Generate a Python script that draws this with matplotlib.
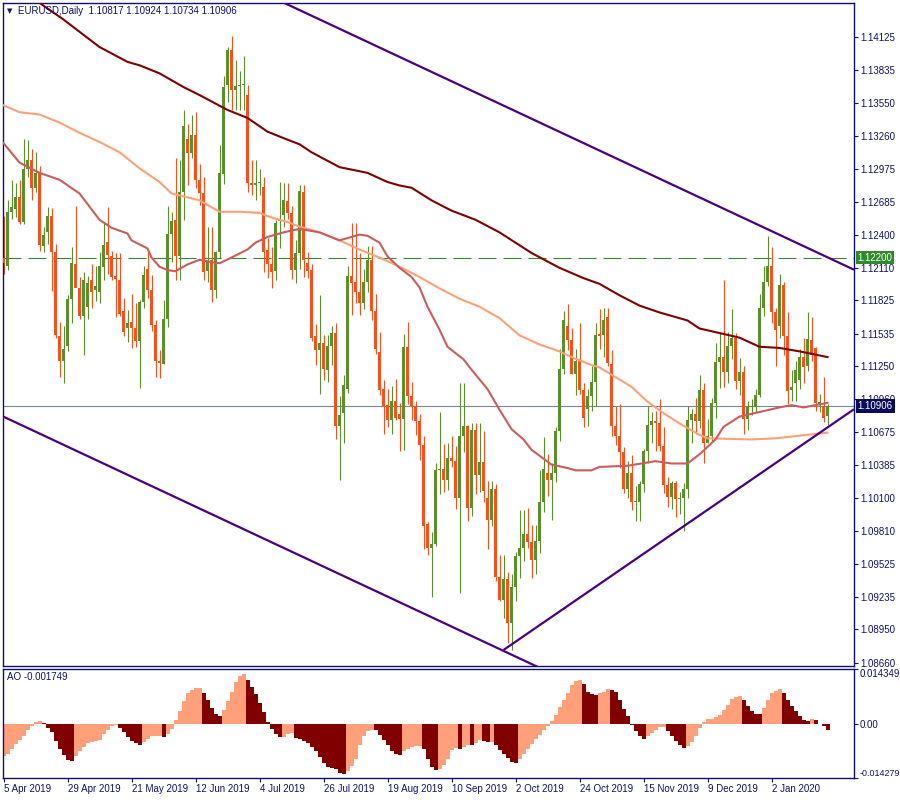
import numpy as np
import matplotlib
matplotlib.use('Agg')
import matplotlib.pyplot as plt

plt.rcParams['font.family'] = ['Liberation Sans', 'DejaVu Sans']
plt.rcParams['lines.scale_dashes'] = False

NAVY = '#10106e'
BULL = '#5b8e2d'
BEAR = '#f4511e'

# EURUSD daily bars, 5 Apr 2019 .. 22 Jan 2020 (one entry per bar)
opens = [
    1.1220, 1.1213, 1.1260, 1.1262, 1.1273, 1.1251, 1.1297, 1.1305, 1.1281, 1.1294,
    1.1230, 1.1242, 1.1256, 1.1225, 1.1151, 1.1130, 1.1143, 1.1184, 1.1214, 1.1193,
    1.1169, 1.1177, 1.1200, 1.1192, 1.1190, 1.1212, 1.1234, 1.1221, 1.1204, 1.1200,
    1.1173, 1.1158, 1.1164, 1.1158, 1.1147, 1.1181, 1.1210, 1.1192, 1.1161, 1.1130,
    1.1127, 1.1166, 1.1241, 1.1253, 1.1221, 1.1277, 1.1324, 1.1311, 1.1327, 1.1288,
    1.1276, 1.1208, 1.1218, 1.1192, 1.1225, 1.1293, 1.1371, 1.1401, 1.1366, 1.1370,
    1.1371, 1.1362, 1.1285, 1.1283, 1.1285, 1.1282, 1.1227, 1.1214, 1.1208, 1.1252,
    1.1257, 1.1269, 1.1259, 1.1209, 1.1224, 1.1277, 1.1215, 1.1209, 1.1151, 1.1139,
    1.1145, 1.1122, 1.1143, 1.1154, 1.1073, 1.1084, 1.1105, 1.1204, 1.1199, 1.1190,
    1.1180, 1.1199, 1.1218, 1.1173, 1.1137, 1.1105, 1.1091, 1.1078, 1.1095, 1.1083,
    1.1079, 1.1142, 1.1099, 1.1090, 1.1077, 1.1056, 1.0987, 1.0966, 1.0970, 1.1034,
    1.1035, 1.1026, 1.1045, 1.1042, 1.1010, 1.1064, 1.1073, 1.1001, 1.1069, 1.1030,
    1.1041, 1.1010, 1.0991, 1.1018, 1.0941, 1.0921, 1.0939, 1.0901, 1.0932, 1.0959,
    1.0966, 1.0978, 1.0971, 1.0956, 1.0972, 1.1006, 1.1032, 1.1026, 1.1032, 1.1068,
    1.1123, 1.1160, 1.1148, 1.1118, 1.1130, 1.1104, 1.1088, 1.1099, 1.1111, 1.1153,
    1.1152, 1.1168, 1.1127, 1.1073, 1.1064, 1.1050, 1.1018, 1.1032, 1.1006, 1.1006,
    1.1022, 1.1051, 1.1074, 1.1077, 1.1075, 1.1055, 1.1021, 1.1011, 1.1023, 1.1009,
    1.1010, 1.1018, 1.1078, 1.1083, 1.1077, 1.1104, 1.1058, 1.1064, 1.1093, 1.1129,
    1.1133, 1.1120, 1.1143, 1.1150, 1.1112, 1.1120, 1.1079, 1.1089, 1.1089, 1.1100,
    1.1176, 1.1199, 1.1213, 1.1172, 1.1160, 1.1196, 1.1151, 1.1104, 1.1110, 1.1113,
    1.1133, 1.1125, 1.1148, 1.1141, 1.1092, 1.1090, 1.10817,
]
highs = [
    1.1256, 1.1270, 1.1288, 1.1285, 1.1288, 1.1324, 1.1323, 1.1315, 1.1312, 1.1300,
    1.1247, 1.1264, 1.1263, 1.1232, 1.1164, 1.1160, 1.1187, 1.1229, 1.1265, 1.1203,
    1.1207, 1.1204, 1.1214, 1.1213, 1.1225, 1.1251, 1.1264, 1.1226, 1.1224, 1.1224,
    1.1185, 1.1174, 1.1188, 1.1180, 1.1183, 1.1213, 1.1225, 1.1205, 1.1165, 1.1139,
    1.1183, 1.1265, 1.1260, 1.1307, 1.1305, 1.1349, 1.1337, 1.1345, 1.1347, 1.1302,
    1.1290, 1.1247, 1.1247, 1.1226, 1.1318, 1.1379, 1.1404, 1.1414, 1.1393, 1.1383,
    1.1396, 1.1371, 1.1305, 1.1305, 1.1297, 1.1290, 1.1237, 1.1229, 1.1253, 1.1286,
    1.1285, 1.1285, 1.1265, 1.1235, 1.1283, 1.1283, 1.1225, 1.1214, 1.1162, 1.1187,
    1.1152, 1.1152, 1.1160, 1.1163, 1.1099, 1.1117, 1.1213, 1.1250, 1.1250, 1.1224,
    1.1210, 1.1230, 1.1230, 1.1188, 1.1155, 1.1113, 1.1105, 1.1108, 1.1114, 1.1093,
    1.1153, 1.1164, 1.1111, 1.1095, 1.1083, 1.1064, 1.0989, 1.0980, 1.1040, 1.1085,
    1.1057, 1.1058, 1.1064, 1.1055, 1.1110, 1.1110, 1.1074, 1.1075, 1.1075, 1.1075,
    1.1068, 1.1025, 1.1025, 1.1022, 1.0960, 1.0960, 1.0945, 1.0943, 1.0963, 1.0999,
    1.0999, 1.1001, 1.0986, 1.0986, 1.1034, 1.1063, 1.1048, 1.1040, 1.1072, 1.1140,
    1.1173, 1.1179, 1.1158, 1.1140, 1.1163, 1.1110, 1.1105, 1.1125, 1.1163, 1.1175,
    1.1176, 1.1176, 1.1139, 1.1090, 1.1092, 1.1054, 1.1042, 1.1047, 1.1020, 1.1025,
    1.1053, 1.1090, 1.1085, 1.1086, 1.1096, 1.1072, 1.1028, 1.1025, 1.1025, 1.1015,
    1.1023, 1.1090, 1.1088, 1.1097, 1.1117, 1.1110, 1.1079, 1.1097, 1.1145, 1.1155,
    1.1200, 1.1155, 1.1175, 1.1154, 1.1132, 1.1125, 1.1095, 1.1096, 1.1105, 1.1188,
    1.1213, 1.1239, 1.1229, 1.1176, 1.1206, 1.1199, 1.1172, 1.1122, 1.1130, 1.1140,
    1.1150, 1.1172, 1.1168, 1.1142, 1.1101, 1.1116, 1.10924,
]
lows = [
    1.1206, 1.1209, 1.1254, 1.1255, 1.1249, 1.1249, 1.1290, 1.1270, 1.1277, 1.1226,
    1.1225, 1.1232, 1.1191, 1.1150, 1.1116, 1.1110, 1.1138, 1.1163, 1.1195, 1.1166,
    1.1135, 1.1166, 1.1176, 1.1182, 1.1180, 1.1200, 1.1206, 1.1200, 1.1168, 1.1169,
    1.1151, 1.1146, 1.1141, 1.1142, 1.1106, 1.1176, 1.1185, 1.1156, 1.1116, 1.1115,
    1.1127, 1.1159, 1.1216, 1.1200, 1.1200, 1.1253, 1.1283, 1.1307, 1.1281, 1.1266,
    1.1200, 1.1199, 1.1181, 1.1185, 1.1220, 1.1284, 1.1356, 1.1349, 1.1349, 1.1349,
    1.1349, 1.1277, 1.1275, 1.1270, 1.1275, 1.1207, 1.1202, 1.1193, 1.1200, 1.1228,
    1.1247, 1.1254, 1.1201, 1.1198, 1.1210, 1.1203, 1.1202, 1.1147, 1.1126, 1.1101,
    1.1113, 1.1111, 1.1126, 1.1061, 1.1026, 1.1058, 1.1102, 1.1170, 1.1180, 1.1170,
    1.1175, 1.1190, 1.1165, 1.1136, 1.1100, 1.1066, 1.1072, 1.1066, 1.1078, 1.1051,
    1.1052, 1.1092, 1.1078, 1.1065, 1.1043, 1.0965, 1.0960, 1.0923, 1.0968, 1.1013,
    1.1015, 1.1017, 1.1037, 1.1000, 1.0927, 1.1050, 1.0990, 1.0994, 1.1013, 1.1015,
    1.1006, 1.0965, 1.0985, 1.0937, 1.0920, 1.0905, 1.0883, 1.0877, 1.0920, 1.0940,
    1.0955, 1.0966, 1.0940, 1.0943, 1.0962, 1.0998, 1.1012, 1.0991, 1.1024, 1.1060,
    1.1118, 1.1139, 1.1118, 1.1100, 1.1101, 1.1072, 1.1073, 1.1086, 1.1090, 1.1140,
    1.1133, 1.1125, 1.1064, 1.1056, 1.1036, 1.1014, 1.1010, 1.0999, 1.0990, 1.0990,
    1.1015, 1.1040, 1.1058, 1.1051, 1.1051, 1.1014, 1.1002, 1.1000, 1.0993, 1.0996,
    1.0981, 1.1010, 1.1058, 1.1066, 1.1071, 1.1040, 1.1058, 1.1060, 1.1080, 1.1106,
    1.1107, 1.1110, 1.1131, 1.1105, 1.1100, 1.1066, 1.1069, 1.1082, 1.1085, 1.1098,
    1.1169, 1.1195, 1.1163, 1.1125, 1.1150, 1.1135, 1.1092, 1.1095, 1.1095, 1.1105,
    1.1110, 1.1121, 1.1130, 1.1086, 1.1085, 1.1076, 1.10734,
]
closes = [
    1.1215, 1.1260, 1.1264, 1.1273, 1.1251, 1.1297, 1.1305, 1.1281, 1.1294, 1.1231,
    1.1240, 1.1256, 1.1225, 1.1152, 1.1130, 1.1140, 1.1184, 1.1215, 1.1193, 1.1169,
    1.1200, 1.1198, 1.1190, 1.1195, 1.1213, 1.1231, 1.1222, 1.1203, 1.1201, 1.1171,
    1.1155, 1.1163, 1.1158, 1.1147, 1.1181, 1.1205, 1.1192, 1.1161, 1.1130, 1.1128,
    1.1166, 1.1241, 1.1252, 1.1221, 1.1277, 1.1335, 1.1311, 1.1327, 1.1288, 1.1276,
    1.1207, 1.1218, 1.1192, 1.1225, 1.1294, 1.1369, 1.1401, 1.1366, 1.1370, 1.1371,
    1.1372, 1.1285, 1.1283, 1.1285, 1.1286, 1.1225, 1.1214, 1.1207, 1.1250, 1.1254,
    1.1270, 1.1259, 1.1209, 1.1224, 1.1278, 1.1218, 1.1208, 1.1150, 1.1139, 1.1145,
    1.1123, 1.1143, 1.1154, 1.1073, 1.1082, 1.1109, 1.1204, 1.1198, 1.1190, 1.1180,
    1.1199, 1.1218, 1.1173, 1.1140, 1.1104, 1.1090, 1.1078, 1.1095, 1.1080, 1.1079,
    1.1142, 1.1099, 1.1090, 1.1077, 1.1056, 1.0985, 1.0966, 1.0970, 1.1034, 1.1035,
    1.1026, 1.1045, 1.1042, 1.1010, 1.1064, 1.1073, 1.1001, 1.1069, 1.1030, 1.1041,
    1.1016, 1.0991, 1.1018, 1.0941, 1.0921, 1.0939, 1.0901, 1.0932, 1.0959, 1.0966,
    1.0978, 1.0971, 1.0956, 1.0972, 1.1006, 1.1035, 1.1026, 1.1032, 1.1068, 1.1123,
    1.1165, 1.1148, 1.1118, 1.1130, 1.1104, 1.1080, 1.1099, 1.1111, 1.1152, 1.1151,
    1.1165, 1.1128, 1.1073, 1.1064, 1.1050, 1.1018, 1.1032, 1.1006, 1.1006, 1.1022,
    1.1051, 1.1074, 1.1077, 1.1075, 1.1055, 1.1021, 1.1011, 1.1023, 1.1009, 1.1010,
    1.1018, 1.1078, 1.1083, 1.1077, 1.1104, 1.1058, 1.1064, 1.1093, 1.1129, 1.1133,
    1.1120, 1.1143, 1.1150, 1.1112, 1.1120, 1.1079, 1.1089, 1.1089, 1.1100, 1.1176,
    1.1199, 1.1213, 1.1172, 1.1157, 1.1196, 1.1151, 1.1103, 1.1107, 1.1122, 1.1133,
    1.1124, 1.1149, 1.1135, 1.1093, 1.1094, 1.1080, 1.10906,
]

# moving averages at these bars
ma_slow_bars = [0, 8, 15, 24, 31, 34, 39, 45, 49, 56, 61, 66, 71, 74, 77, 84, 91, 96, 99, 102,
                107, 112, 118, 124, 132, 139, 145, 149, 154, 159, 164, 171, 174, 179, 184,
                189, 194, 199, 206]
ma_slow = [1.1463, 1.1445, 1.1428, 1.1404, 1.1391, 1.1388, 1.1381, 1.1369, 1.1362, 1.1349,
           1.1342, 1.1330, 1.1323, 1.1319, 1.1312, 1.1299, 1.1294, 1.1286, 1.1283, 1.1281,
           1.1270, 1.1261, 1.1253, 1.1242, 1.1224, 1.1211, 1.1202, 1.1197, 1.1187, 1.1178,
           1.1172, 1.1165, 1.1158, 1.1154, 1.1150, 1.1142, 1.1141, 1.1138, 1.1133]

ma_mid_bars = [0, 4, 9, 14, 19, 24, 29, 34, 39, 42, 49, 54, 59, 64, 67, 71, 74, 79, 84, 89,
               94, 99, 104, 109, 114, 119, 124, 129, 134, 139, 142, 147, 149, 157, 161, 165,
               169, 174, 176, 187, 193, 206]
ma_mid = [1.1353, 1.1347, 1.1345, 1.1338, 1.1329, 1.1321, 1.1312, 1.1298, 1.1286, 1.1276,
          1.1270, 1.1260, 1.1260, 1.1259, 1.1255, 1.1251, 1.1247, 1.1242, 1.1235, 1.1227,
          1.1220, 1.1212, 1.1203, 1.1193, 1.1184, 1.1177, 1.1167, 1.1152, 1.1144, 1.1138,
          1.1133, 1.1126, 1.1124, 1.1107, 1.1094, 1.1084, 1.1075, 1.1065, 1.1062, 1.1061,
          1.1062, 1.1067]

ma_fast_bars = [0, 4, 9, 14, 19, 24, 27, 31, 32, 36, 37, 39, 41, 43, 46, 49, 52, 54, 57, 61,
                63, 66, 70, 74, 79, 84, 89, 91, 94, 96, 99, 102, 104, 106, 109, 111, 115, 117,
                121, 124, 127, 130, 132, 137, 141, 143, 147, 149, 156, 163, 167, 171, 174,
                178, 180, 184, 189, 194, 197, 200, 206]
ma_fast = [1.1320, 1.1303, 1.1294, 1.1288, 1.1276, 1.1253, 1.1246, 1.1241, 1.1235, 1.1228,
           1.1220, 1.1212, 1.1209, 1.1208, 1.1214, 1.1218, 1.1216, 1.1215, 1.1220, 1.1227,
           1.1233, 1.1238, 1.1242, 1.1245, 1.1242, 1.1235, 1.1240, 1.1239, 1.1233, 1.1221,
           1.1211, 1.1203, 1.1194, 1.1177, 1.1157, 1.1142, 1.1131, 1.1122, 1.1105, 1.1087,
           1.1070, 1.1061, 1.1052, 1.1039, 1.1036, 1.1034, 1.1034, 1.1037, 1.1038, 1.1042,
           1.1040, 1.1040, 1.1048, 1.1061, 1.1072, 1.1081, 1.1085, 1.1089, 1.1091, 1.1089,
           1.1093]

# Awesome Oscillator, one value per bar
ao = [
    -0.00851, -0.00807, -0.00660, -0.00547, -0.00434, -0.00312, -0.00174, -0.00069, 0.00052, 0.00078,
    0.00017, -0.00113, -0.00226, -0.00443, -0.00677, -0.00833, -0.00955, -0.00981, -0.00851, -0.00720,
    -0.00608, -0.00503, -0.00486, -0.00460, -0.00417, -0.00260, -0.00156, -0.00069, -0.00043, -0.00113,
    -0.00217, -0.00347, -0.00460, -0.00503, -0.00564, -0.00477, -0.00391, -0.00330, -0.00328, -0.00326,
    -0.00356, -0.00260, -0.00139, 0.00087, 0.00339, 0.00599, 0.00799, 0.00885, 0.00937, 0.00940,
    0.00816, 0.00625, 0.00408, 0.00252, 0.00191, 0.00365, 0.00582, 0.00842, 0.01102, 0.01250,
    0.01302, 0.01146, 0.00955, 0.00773, 0.00538, 0.00295, 0.00052, -0.00130, -0.00260, -0.00356,
    -0.00347, -0.00260, -0.00258, -0.00382, -0.00399, -0.00460, -0.00503, -0.00608, -0.00720, -0.00868,
    -0.01024, -0.01128, -0.01154, -0.01198, -0.01285, -0.01328, -0.01241, -0.01111, -0.00920, -0.00573,
    -0.00312, -0.00182, -0.00156, -0.00174, -0.00286, -0.00417, -0.00573, -0.00720, -0.00807, -0.00825,
    -0.00729, -0.00677, -0.00625, -0.00590, -0.00588, -0.00677, -0.00920, -0.01128, -0.01224, -0.01198,
    -0.01094, -0.00920, -0.00694, -0.00634, -0.00660, -0.00608, -0.00564, -0.00573, -0.00503, -0.00434,
    -0.00460, -0.00486, -0.00477, -0.00573, -0.00694, -0.00807, -0.00903, -0.01007, -0.01042, -0.00937,
    -0.00807, -0.00660, -0.00529, -0.00399, -0.00286, -0.00174, -0.00069, 0.00061, 0.00234, 0.00434,
    0.00608, 0.00799, 0.01016, 0.01128, 0.01146, 0.01042, 0.00842, 0.00773, 0.00755, 0.00799,
    0.00842, 0.00920, 0.00894, 0.00842, 0.00625, 0.00382, 0.00191, -0.00026, -0.00200, -0.00330,
    -0.00391, -0.00312, -0.00243, -0.00156, -0.00087, -0.00086, -0.00200, -0.00330, -0.00460, -0.00573,
    -0.00634, -0.00590, -0.00486, -0.00312, -0.00113, 0.00052, 0.00122, 0.00123, 0.00174, 0.00234,
    0.00365, 0.00495, 0.00642, 0.00712, 0.00713, 0.00608, 0.00451, 0.00321, 0.00260, 0.00252,
    0.00408, 0.00625, 0.00799, 0.00868, 0.00903, 0.00799, 0.00625, 0.00451, 0.00321, 0.00208,
    0.00104, 0.00078, 0.00122, 0.00104, -0.00009, -0.00052, -0.001749,
]

# trend line anchors (bar, price)
upper_line = [(74, 1.14363), (206, 1.12202)]
lower_line = [(0, 1.10809), (125, 1.08762)]
rise_line = [(125, 1.08770), (206, 1.10715)]

level_line = 1.12200
last_price = 1.10906

price_ticks = [1.14125, 1.13835, 1.13550, 1.13260, 1.12975, 1.12685, 1.12400, 1.12110,
               1.11825, 1.11535, 1.11250, 1.10960, 1.10675, 1.10385, 1.10100, 1.09810,
               1.09525, 1.09235, 1.08950, 1.08660]
date_bars = [0, 16, 32, 48, 64, 80, 96, 112, 128, 144, 160, 176, 192]
date_labels = ['5 Apr 2019', '29 Apr 2019', '21 May 2019', '12 Jun 2019', '4 Jul 2019',
               '26 Jul 2019', '19 Aug 2019', '10 Sep 2019', '2 Oct 2019', '24 Oct 2019',
               '15 Nov 2019', '9 Dec 2019', '2 Jan 2020']
ao_ticks = [0.014349, 0.0, -0.014279]
ao_tick_labels = ['0.014349', '0.00', '-0.014279']

XMIN, XMAX = -0.125, 212.625

fig = plt.figure(figsize=(9, 8), dpi=100)
ax = fig.add_axes([3 / 900, 134 / 800, 851 / 900, 663.5 / 800])
ax2 = fig.add_axes([3 / 900, 22 / 800, 851 / 900, 109 / 800])

o = np.array(opens)
h = np.array(highs)
l = np.array(lows)
c = np.array(closes)
x = np.arange(len(c))
col = np.where(c >= o, BULL, BEAR)

ax.axhline(last_price, color='#778899', lw=0.8, zorder=1)
ax.axhline(level_line, color='#2f8b2a', lw=0.8, dashes=(13, 5), zorder=1)

ax.vlines(x, l, h, colors=col, lw=0.8, zorder=2)
ax.bar(x, np.maximum(np.abs(c - o), 0.00009), bottom=np.minimum(o, c), width=0.75,
       color=col, lw=0, zorder=3)

ax.plot(ma_slow_bars, ma_slow, color='#800000', lw=1.5, zorder=4)
ax.plot(ma_mid_bars, ma_mid, color='#ffa07a', lw=1.5, zorder=4)
ax.plot(ma_fast_bars, ma_fast, color='#cd5c5c', lw=1.5, zorder=4)


def line_through(pts, x0, x1):
    (xa, ya), (xb, yb) = pts
    k = (yb - ya) / (xb - xa)
    return [x0, x1], [ya + k * (x0 - xa), ya + k * (x1 - xa)]


for pts, start in [(upper_line, XMIN), (lower_line, XMIN), (rise_line, rise_line[0][0])]:
    xs, ys = line_through(pts, start, XMAX)
    ax.plot(xs, ys, color='#4b0082', lw=1.6, zorder=5, solid_capstyle='butt')

ax.set_xlim(XMIN, XMAX)
ax.set_ylim(1.08630, 1.14429)
ax.yaxis.tick_right()
ax.set_yticks(price_ticks)
ax.set_yticklabels(['%.5f' % v for v in price_ticks])
ax.set_xticks([])
ax.tick_params(axis='y', length=3, width=0.8, color=NAVY, labelcolor=NAVY,
               labelsize=7, pad=1.5)
for s in ax.spines.values():
    s.set_color(NAVY)
    s.set_linewidth(1.0)

box = dict(boxstyle='square,pad=0.2', ec='none')
ax.annotate('1.12200', xy=(1, level_line), xycoords=('axes fraction', 'data'),
            xytext=(2.5, 0), textcoords='offset points', va='center', ha='left',
            fontsize=7, color='white', bbox=dict(box, fc='#2f8b2a'),
            annotation_clip=False, zorder=10)
ax.annotate('1.10906', xy=(1, last_price), xycoords=('axes fraction', 'data'),
            xytext=(2.5, 0), textcoords='offset points', va='center', ha='left',
            fontsize=7, color='white', bbox=dict(box, fc='#0b0b5e'),
            annotation_clip=False, zorder=10)

fig.text(10 / 900, 1 - 11 / 800, '\u25bc', fontsize=5, color=NAVY, ha='center',
         va='center', family='DejaVu Sans')
fig.text(18 / 900, 1 - 11 / 800, 'EURUSD,Daily  1.10817 1.10924 1.10734 1.10906',
         fontsize=7, color=NAVY, va='center')

# Awesome Oscillator panel
a = np.array(ao)
rising = np.r_[True, a[1:] >= a[:-1]]
ax2.bar(x, a, width=1.0, color=np.where(rising, '#ffa07a', '#800000'), lw=0)
ax2.set_xlim(XMIN, XMAX)
ax2.set_ylim(-0.014279, 0.014349)
ax2.yaxis.tick_right()
ax2.set_yticks(ao_ticks)
ax2.set_yticklabels(ao_tick_labels)
ax2.set_xticks(date_bars)
ax2.set_xticklabels(date_labels, ha='left')
ax2.tick_params(length=3, width=0.8, color=NAVY, labelcolor=NAVY, labelsize=7, pad=1.5)
ax2.tick_params(axis='y', pad=1)
lbls = ax2.get_yticklabels()
lbls[0].set_va('top')
lbls[2].set_va('bottom')
lbls[2].set_fontsize(6.4)
for s in ax2.spines.values():
    s.set_color(NAVY)
    s.set_linewidth(1.0)
fig.text(7 / 900, 1 - 677 / 800, 'AO -0.001749', fontsize=7, color=NAVY, va='center')

fig.savefig('out.png', dpi=100, facecolor='white')
